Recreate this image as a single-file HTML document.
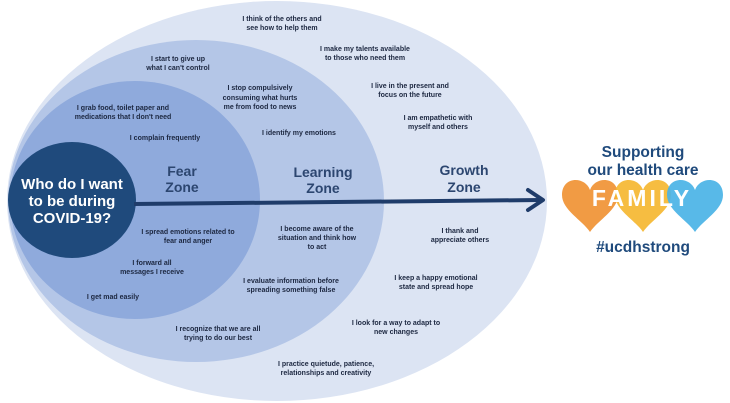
<!DOCTYPE html>
<html><head><meta charset="utf-8"><style>
html,body{margin:0;padding:0;background:#fff;}
svg{display:block;}
.t{font-family:"Liberation Sans",sans-serif;font-weight:bold;font-size:7px;fill:#1c2740;text-anchor:middle;}
.z{font-family:"Liberation Sans",sans-serif;font-weight:bold;font-size:14px;fill:#2c4670;text-anchor:middle;}
.w{font-family:"Liberation Sans",sans-serif;font-weight:bold;font-size:15px;fill:#fff;text-anchor:middle;}
.l{font-family:"Liberation Sans",sans-serif;font-weight:bold;font-size:15.5px;fill:#1f4a7c;text-anchor:middle;}
</style></head><body>
<svg width="730" height="403" viewBox="0 0 730 403" xmlns="http://www.w3.org/2000/svg">
<ellipse cx="277" cy="201" rx="270" ry="200" fill="#dce4f3"/>
<ellipse cx="196" cy="201" rx="188" ry="161" fill="#b4c6e7"/>
<ellipse cx="135" cy="200" rx="125" ry="119" fill="#8faadc"/>
<ellipse cx="72" cy="200" rx="64" ry="58" fill="#1f4a7c"/>
<path d="M134 204 L540 200" stroke="#1f3c6a" stroke-width="4" fill="none"/>
<path d="M528 190 L543 200 L528 210" stroke="#1f3c6a" stroke-width="4" fill="none" stroke-linecap="round" stroke-linejoin="round"/>
<text class="w" x="72" y="189">Who do I want</text>
<text class="w" x="72" y="206">to be during</text>
<text class="w" x="72" y="223">COVID-19?</text>
<text class="z" x="182" y="176">Fear</text><text class="z" x="182" y="192">Zone</text>
<text class="z" x="323" y="177">Learning</text><text class="z" x="323" y="193">Zone</text>
<text class="z" x="464" y="175">Growth</text><text class="z" x="464" y="192">Zone</text>
<g class="t">
<text class="t" x="282" y="21">I think of the others and</text><text class="t" x="282" y="30">see how to help them</text>
<text class="t" x="365" y="51">I make my talents available</text><text class="t" x="365" y="60">to those who need them</text>
<text class="t" x="178" y="61">I start to give up</text><text class="t" x="178" y="70">what I can't control</text>
<text class="t" x="260" y="90">I stop compulsively</text><text class="t" x="260" y="100">consuming what hurts</text><text class="t" x="260" y="109">me from food to news</text>
<text class="t" x="410" y="88">I live in the present and</text><text class="t" x="410" y="97">focus on the future</text>
<text class="t" x="123" y="110">I grab food, toilet paper and</text><text class="t" x="123" y="119">medications that I don't need</text>
<text class="t" x="438" y="120">I am empathetic with</text><text class="t" x="438" y="129">myself and others</text>
<text class="t" x="165" y="140">I complain frequently</text>
<text class="t" x="299" y="135">I identify my emotions</text>
<text class="t" x="188" y="234">I spread emotions related to</text><text class="t" x="188" y="243">fear and anger</text>
<text class="t" x="317" y="231">I become aware of the</text><text class="t" x="317" y="240">situation and think how</text><text class="t" x="317" y="249">to act</text>
<text class="t" x="460" y="233">I thank and</text><text class="t" x="460" y="242">appreciate others</text>
<text class="t" x="152" y="265">I forward all</text><text class="t" x="152" y="274">messages I receive</text>
<text class="t" x="291" y="283">I evaluate information before</text><text class="t" x="291" y="292">spreading something false</text>
<text class="t" x="436" y="280">I keep a happy emotional</text><text class="t" x="436" y="289">state and spread hope</text>
<text class="t" x="113" y="299">I get mad easily</text>
<text class="t" x="218" y="331">I recognize that we are all</text><text class="t" x="218" y="340">trying to do our best</text>
<text class="t" x="396" y="325">I look for a way to adapt to</text><text class="t" x="396" y="334">new changes</text>
<text class="t" x="326" y="366">I practice quietude, patience,</text><text class="t" x="326" y="375">relationships and creativity</text>
</g>
<text class="l" x="643" y="157">Supporting</text>
<text class="l" x="643" y="175">our health care</text>
<path d="M590 190 C585 176 562 176 562 195 C562 210 582 220 590 232 C598 220 618 210 618 195 C618 176 595 176 590 190 Z" fill="#f0963a" opacity="0.95"/>
<path d="M643 190 C638 176 615 176 615 195 C615 210 635 220 643 232 C651 220 671 210 671 195 C671 176 648 176 643 190 Z" fill="#f5b731" opacity="0.92"/>
<path d="M695 190 C690 176 667 176 667 195 C667 210 687 220 695 232 C703 220 723 210 723 195 C723 176 700 176 695 190 Z" fill="#4ab3e6" opacity="0.92"/>
<text x="642" y="206" style="font-family:'Liberation Sans',sans-serif;font-weight:bold;font-size:23px;fill:#fff;text-anchor:middle;letter-spacing:3px">FAMILY</text>
<text class="l" x="643" y="252">#ucdhstrong</text>
</svg>
</body></html>
